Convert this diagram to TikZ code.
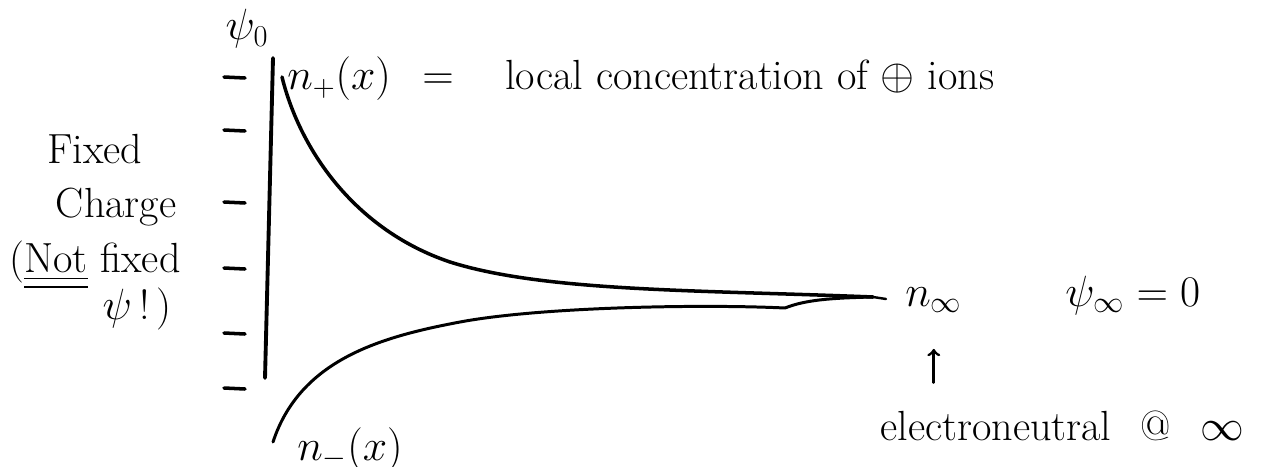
\documentclass[tikz,border=0pt]{standalone}
\usepackage{amsmath,amssymb}
\usepackage{tikz}
\usetikzlibrary{positioning}

\begin{document}
\begin{tikzpicture}[x=0.02cm,y=-0.02cm,
  thick line/.style={line width=2pt,line cap=round,line join=round},
  hand/.style={font=\fontsize{24}{31}\selectfont,inner sep=0pt}]
\useasboundingbox (0,0) rectangle (1266,466);
% axis with the fixed charges
\draw[thick line,line width=2.2pt] (273,58) -- (265,378);
\foreach \y in {77,130,202,268,333,388}
  \draw[thick line] (224,\y) -- (245,\y+1);
\node[hand,anchor=base] (psi0) at (247,40) {$\psi_0$};
\node[hand,align=center] (fixed) at (95,232)
  {Fixed\\\hspace*{1em}Charge\\(\underline{\underline{Not}} fixed\\[-4pt]\hspace*{2em}$\psi$\,!\,)};
% concentration profiles
\coordinate (lim) at (873,297);
\draw[thick line] (282,77) .. controls (300,150) and (355,230) .. (450,262)
  .. controls (545,292) and (700,290) .. (lim);
\draw[thick line,line width=1.7pt] (273,442) .. controls (300,360) and (380,337) .. (460,322)
  .. controls (540,307) and (700,304) .. (785,308)
  .. controls (805,300) and (830,298) .. (lim);
\draw[thick line,line width=1.4pt] (lim) -- (886,299);
% labels
\node[hand,anchor=base west] (nplus) at (287,90) {$n_+(x)$};
\node[hand,anchor=base west] (eq) at (422,90) {$=$};
\node[hand,anchor=base west] (conc) at (505,90) {local concentration of $\oplus$ ions};
\node[hand,anchor=base west] (nminus) at (297,460) {$n_-(x)$};
\node[hand,anchor=base west] (ninf) at (905,306) {$n_\infty$};
\node[hand,anchor=base west] (psiinf) at (1065,306) {$\psi_\infty = 0$};
\node[hand,anchor=base west] (neutral) at (880,440)
  {electroneutral\hspace{0.7em}@\hspace{0.7em}$\infty$};
\draw[thick line,line width=1.6pt,->,shorten <=0.55cm,shorten >=0.72cm]
  (neutral.north -| ninf.south) -- (ninf.south);
\end{tikzpicture}
\end{document}
